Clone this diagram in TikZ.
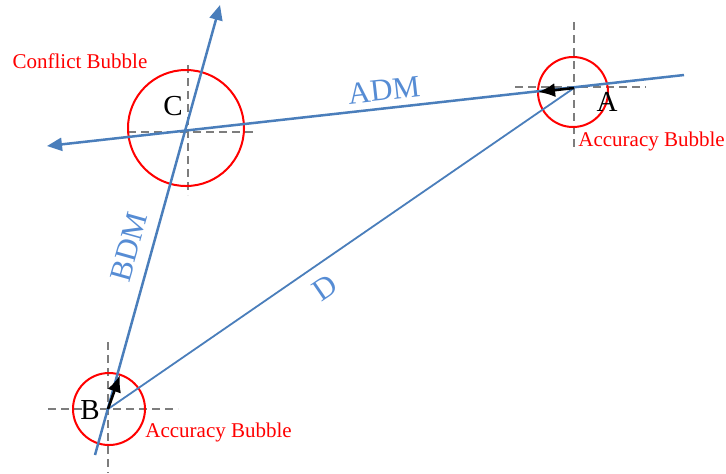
\documentclass[tikz,border=0pt]{standalone}
\usepackage{fontspec}
\setmainfont{Liberation Serif}
\usetikzlibrary{arrows.meta,positioning}
\definecolor{lineblue}{RGB}{74,126,187}
\definecolor{textblue}{RGB}{86,140,212}
\definecolor{crossgray}{RGB}{125,125,125}

\begin{document}
\begin{tikzpicture}[x=0.5pt,y=-0.5pt,
		bubble/.style={draw=red, line width=1pt},
		crosshair/.style={draw=crossgray, line width=0.85pt, dash pattern=on 4pt off 2.5pt},
		track/.style={draw=lineblue, line width=1.25pt, -{Triangle[length=7.5pt,width=6.5pt]}},
		heading/.style={draw=black, line width=1.3pt, -{Latex[length=8.5pt,width=7pt]}},
		pointname/.style={font=\fontsize{14.5}{16}\selectfont, inner sep=0pt},
		bubblename/.style={text=red, font=\fontsize{10.5}{12}\selectfont, inner sep=0pt},
		trackname/.style={text=textblue, font=\fontsize{15.5}{18}\selectfont, inner sep=0pt}]
		\useasboundingbox (0,0) rectangle (726,473);

		% aircraft positions and track ends
		\coordinate (A) at (574,88);
		\coordinate (B) at (108,409);
		\coordinate (C) at (185,131);
		\coordinate (admstart) at (684,75);
		\coordinate (admend) at (47,146);
		\coordinate (bdmstart) at (95,455);
		\coordinate (bdmend) at (220,5);

		% dashed crosshairs
		\draw[crosshair] (574,22) -- (574,151);
		\draw[crosshair] (515,87) -- (646,87);
		\draw[crosshair] (108,342) -- (108,473);
		\draw[crosshair] (48,409) -- (178,409);
		\draw[crosshair] (188,65) -- (188,195);
		\draw[crosshair] (128,132) -- (257,132);

		% bubbles
		\draw[bubble] (573,92) circle[radius=35];
		\draw[bubble] (109,409) circle[radius=36];
		\draw[bubble] (186,128) circle[radius=58];

		% tracks
		\draw[track] (admstart) -- (admend);
		\draw[track] (bdmstart) -- (bdmend);
		\draw[draw=lineblue, line width=0.9pt] (B) -- (A);

		% heading vectors
		\coordinate (headA) at (538,92);
		\coordinate (headB) at (120,375);
		\draw[heading] (A) -- (headA);
		\draw[heading] (B) -- (headB);

		% labels
		\node[pointname] (labelA) at (607,102) {A};
		\node[pointname] (labelB) at (90,410) {B};
		\node[pointname] (labelC) at (173,106) {C};
		\node[bubblename, anchor=west] (accA) at (578,141) {Accuracy Bubble};
		\node[bubblename, anchor=west] (accB) at (145,432) {Accuracy Bubble};
		\node[bubblename] (conflict) at (80,61) {Conflict Bubble};
		\node[trackname, rotate=6.4] (adm) at (384,90) {ADM};
		\node[trackname, rotate=74.4] (bdm) at (129,247) {BDM};
		\node[trackname, rotate=34.5] (d) at (325,288) {D};
	\end{tikzpicture}
\end{document}
